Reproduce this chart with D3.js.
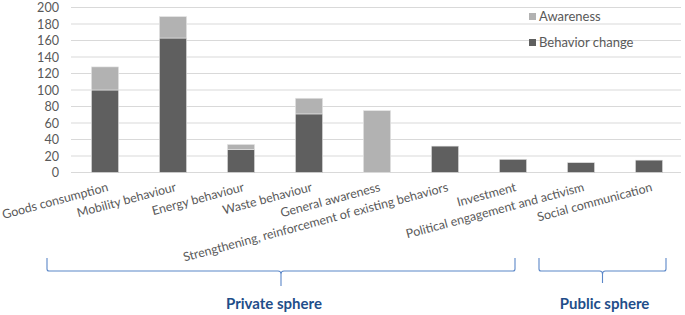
<!DOCTYPE html>
<html>
<head>
<meta charset="utf-8">
<script src="https://cdn.jsdelivr.net/npm/d3@7"></script>
<style>
  body { margin: 0; background: #fff; }
  text { font-family: Lato, "Liberation Sans", sans-serif; }
</style>
</head>
<body>
<script>
// data
const categories = ["Goods consumption", "Mobility behaviour", "Energy behaviour", "Waste behaviour",
  "General awareness", "Strengthening, reinforcement of existing behaviors", "Investment",
  "Political engagement and activism", "Social communication"];
const behaviorChange = [100, 163, 28, 71, 0, 32, 16, 12, 15];
const awareness = [28, 26, 6, 19, 75, 0, 0, 0, 0];
const yTicks = [0, 20, 40, 60, 80, 100, 120, 140, 160, 180, 200];
const seriesNames = ["Awareness", "Behavior change"];
const spheres = [
  { name: "Private sphere", from: 0, to: 6 },
  { name: "Public sphere", from: 7, to: 8 }
];

const width = 685, height = 315;
const svg = d3.select("body").append("svg")
  .attr("width", width)
  .attr("height", height);

const x = d3.scaleBand()
  .domain(categories)
  .range([71, 683])
  .paddingInner(0.6)
  .paddingOuter(0.3);

const y = d3.scaleLinear()
  .domain([0, 200])
  .range([172.5, 7.5]);

// grid lines
svg.append("g")
  .selectAll("line")
  .data(yTicks)
  .join("line")
  .attr("x1", 71)
  .attr("x2", 681)
  .attr("y1", d => y(d))
  .attr("y2", d => y(d))
  .attr("stroke", "#d9d9d9")
  .attr("stroke-width", 1);

// y axis labels
const yAxis = svg.append("g")
  .attr("transform", "translate(71,0)")
  .call(d3.axisLeft(y).tickValues(yTicks).tickSize(0).tickPadding(12));
yAxis.select(".domain").remove();
yAxis.selectAll("text")
  .attr("fill", "#595959")
  .attr("dy", "0.34em")
  .style("font-size", "12.6px")
  .style("font-family", "Lato, sans-serif");

// stacked bars
const rows = categories.map((c, i) => ({ cat: c, behavior: behaviorChange[i], awareness: awareness[i] }));
const stack = d3.stack().keys(["behavior", "awareness"])(rows);
const colors = { behavior: "#5f5f5f", awareness: "#b2b2b2" };

svg.append("g")
  .selectAll("g")
  .data(stack)
  .join("g")
  .attr("fill", d => colors[d.key])
  .selectAll("rect")
  .data(d => d.filter(s => s[1] - s[0] > 0))
  .join("rect")
  .attr("x", d => x(d.data.cat))
  .attr("y", d => y(d[1]))
  .attr("width", x.bandwidth())
  .attr("height", d => y(d[0]) - y(d[1]))
  .attr("stroke", "#e6e6e6")
  .attr("stroke-width", 0.6);

// category labels, rotated
svg.append("g")
  .selectAll("text")
  .data(categories)
  .join("text")
  .attr("transform", d => "translate(" + (x(d) + x.bandwidth() / 2 + 1) + ",180) rotate(-15)")
  .attr("text-anchor", "end")
  .attr("dy", "0.9em")
  .attr("fill", "#595959")
  .style("font-size", "12.4px")
  .text(d => d);

// legend
const legend = svg.append("g");
seriesNames.forEach((name, i) => {
  const yy = 13 + i * 26;
  legend.append("rect")
    .attr("x", 529).attr("y", yy)
    .attr("width", 7).attr("height", 7)
    .attr("fill", i === 0 ? colors.awareness : colors.behavior);
  legend.append("text")
    .attr("x", 539).attr("y", yy + 7.5)
    .attr("fill", "#595959")
    .style("font-size", "13px")
    .text(name);
});

// braces for spheres
spheres.forEach(s => {
  const x0 = x(categories[s.from]) + x.bandwidth() / 2 - (s.from === 0 ? 58 : 42);
  const x1 = x(categories[s.to]) + x.bandwidth() / 2 + (s.to === 8 ? 17 : 2);
  const mid = (x0 + x1) / 2;
  const top = 258, base = 271, tip = s.from === 0 ? 286 : 283;
  const p = d3.path();
  p.moveTo(x0, top);
  p.lineTo(x0, base - 2);
  p.quadraticCurveTo(x0, base, x0 + 2, base);
  p.lineTo(mid - 3, base);
  p.quadraticCurveTo(mid, base, mid, base + 3);
  p.lineTo(mid, tip);
  p.moveTo(mid, base + 3);
  p.quadraticCurveTo(mid, base, mid + 3, base);
  p.lineTo(x1 - 2, base);
  p.quadraticCurveTo(x1, base, x1, base - 2);
  p.lineTo(x1, top);
  svg.append("path")
    .attr("d", p.toString())
    .attr("fill", "none")
    .attr("stroke", "#5b87c8")
    .attr("stroke-width", 1.1);
  svg.append("text")
    .attr("x", mid - (s.from === 0 ? 7 : -2))
    .attr("y", 309)
    .attr("text-anchor", "middle")
    .attr("fill", "#1f4e8a")
    .style("font-size", "15px")
    .style("font-weight", "bold")
    .text(s.name);
});
</script>
</body>
</html>
